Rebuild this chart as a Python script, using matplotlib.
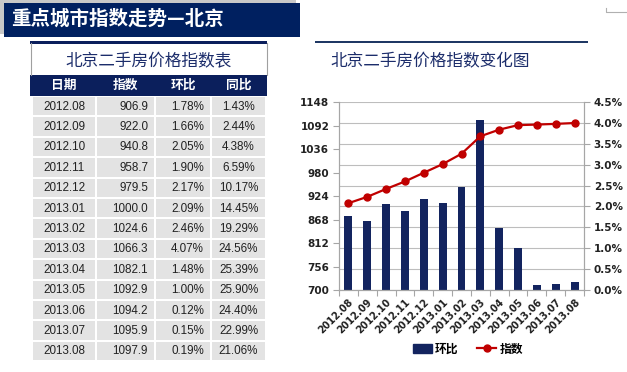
import numpy as np
import matplotlib.pyplot as plt
from matplotlib.patches import Rectangle
from matplotlib.lines import Line2D

# ---------------- data ----------------
dates = ["2012.08", "2012.09", "2012.10", "2012.11", "2012.12", "2013.01",
         "2013.02", "2013.03", "2013.04", "2013.05", "2013.06", "2013.07",
         "2013.08"]
index = [906.9, 922.0, 940.8, 958.7, 979.5, 1000.0, 1024.6, 1066.3,
         1082.1, 1092.9, 1094.2, 1095.9, 1097.9]
mom = [1.78, 1.66, 2.05, 1.90, 2.17, 2.09, 2.46, 4.07, 1.48, 1.00,
       0.12, 0.15, 0.19]
yoy = [1.43, 2.44, 4.38, 6.59, 10.17, 14.45, 19.29, 24.56, 25.39, 25.90,
       24.40, 22.99, 21.06]
headers = ["日期", "指数", "环比", "同比"]
left_ticks = [700, 756, 812, 868, 924, 980, 1036, 1092, 1148]
right_ticks = [0.0, 0.5, 1.0, 1.5, 2.0, 2.5, 3.0, 3.5, 4.0, 4.5]

CJK = ["Noto Sans CJK SC", "DejaVu Sans"]
NAVY = "#0b1f5c"
BAR = "#13245f"
RED = "#c00000"

W, H = 627, 372
fig = plt.figure(figsize=(W / 100, H / 100), dpi=100)
fig.patch.set_facecolor("white")

# overlay in pixel coords
ov = fig.add_axes([0, 0, 1, 1])
ov.set_xlim(0, W)
ov.set_ylim(H, 0)
ov.axis("off")

# =====================================================
# HEADER
# =====================================================
ov.add_patch(Rectangle((0, 0), 296, 34, color="#c8c8c8", lw=0))
ov.add_patch(Rectangle((4, 3), 296, 34, color="#002060", lw=0))
ov.text(11, 19.5, "重点城市指数走势—北京", family=CJK, fontsize=14,
        fontweight="bold", color="white", va="center", ha="left")
ov.plot([606, 606, 627], [8, 12, 12], color="#b0b0b0", lw=0.8)

# =====================================================
# TABLE
# =====================================================
tx0, tx1 = 30, 267
ov.add_patch(Rectangle((tx0, 41), tx1 - tx0, 2.5, color=NAVY, lw=0))
ov.plot([tx0 + 0.5, tx0 + 0.5], [43, 75], color="#a0a0a0", lw=0.8)
ov.plot([tx1 - 0.5, tx1 - 0.5], [43, 75], color="#a0a0a0", lw=0.8)
ov.text((tx0 + tx1) / 2, 62, "北京二手房价格指数表", family=CJK,
        fontsize=12, fontweight="medium", color="#1c2d6b",
        ha="center", va="center")

ov.add_patch(Rectangle((tx0, 75), tx1 - tx0, 21, color=NAVY, lw=0))
col_edges = [32, 96, 155, 211, 266]
for j, h in enumerate(headers):
    cx = (col_edges[j] + col_edges[j + 1]) / 2
    ov.text(cx, 85.5, h, family=CJK, fontsize=9.2, fontweight="bold",
            color="white", ha="center", va="center")

row_h = 20.4
y0 = 96
for i in range(len(dates)):
    top = y0 + i * row_h
    for j in range(4):
        ov.add_patch(Rectangle((col_edges[j] + 1, top + 1),
                               col_edges[j + 1] - col_edges[j] - 2,
                               row_h - 2, color="#e3e3e3", lw=0))
    cy = top + row_h / 2 + 0.5
    kw = dict(family="Liberation Sans", fontsize=8.4, color="#222222",
              va="center")
    ov.text(64, cy, dates[i], ha="center", **kw)
    ov.text(148, cy, f"{index[i]:.1f}", ha="right", **kw)
    ov.text(204, cy, f"{mom[i]:.2f}%", ha="right", **kw)
    ov.text(238.5, cy, f"{yoy[i]:.2f}%", ha="center", **kw)

# =====================================================
# CHART
# =====================================================
ov.add_patch(Rectangle((315, 41), 273, 2.2, color="#1f3864", lw=0))
ov.text(430, 62, "北京二手房价格指数变化图", family=CJK, fontsize=12,
        fontweight="medium", color="#1c2d6b", ha="center", va="center")

L, R, T, B = 339, 584, 102, 290
ax = fig.add_axes([L / W, 1 - B / H, (R - L) / W, (B - T) / H])
x = np.arange(len(dates))

ax.bar(x, mom, width=0.42, color=BAR, zorder=2)
ax.set_ylim(0, 4.5)
ax.set_xlim(-0.5, len(dates) - 0.5)
ax.grid(axis="y", color="#bdbdbd", lw=0.8, zorder=0)
ax.set_axisbelow(True)

ax2 = ax.twinx()
ax2.plot(x, index, color=RED, lw=1.6, marker="o", ms=5, zorder=3)
ax2.set_ylim(700, 1148)

# bars on the right scale, line on the left scale
ax.yaxis.tick_right()
ax.yaxis.set_label_position("right")
ax2.yaxis.tick_left()
ax2.yaxis.set_label_position("left")
ax.set_yticks(right_ticks)
ax.set_yticklabels([f"{v:.1f}%" for v in right_ticks])
ax2.set_yticks(left_ticks)
ax2.set_yticklabels([str(v) for v in left_ticks])

for a in (ax, ax2):
    for s in a.spines.values():
        s.set_color("#a6a6a6")
        s.set_linewidth(0.8)
    a.spines["top"].set_visible(False)
    a.tick_params(axis="y", length=4, width=0.8, color="#a6a6a6",
                  pad=3, labelsize=7.5)
    for lab in a.get_yticklabels():
        lab.set_fontweight("bold")
        lab.set_color("#222222")

ax.set_xticks(x)
ax.set_xticklabels(dates, rotation=45, ha="right", rotation_mode="anchor",
                   fontsize=7, fontweight="bold", color="#222222")
ax.set_xticks(np.arange(-0.5, len(dates)), minor=True)
ax.tick_params(axis="x", which="major", length=0, pad=5)
ax.tick_params(axis="x", which="minor", length=4, width=0.8,
               color="#a6a6a6")

handles = [Rectangle((0, 0), 1, 1, color=BAR),
           Line2D([], [], color=RED, lw=1.6, marker="o", ms=5)]
leg = fig.legend(handles, ["环比", "指数"], loc="center",
                 bbox_to_anchor=(468 / W, 1 - 349 / H), ncol=2,
                 frameon=False, handlelength=1.6, handletextpad=0.3,
                 columnspacing=1.6,
                 prop=dict(family=CJK, size=8.5, weight="bold"))

plt.savefig("out.png", dpi=100)
